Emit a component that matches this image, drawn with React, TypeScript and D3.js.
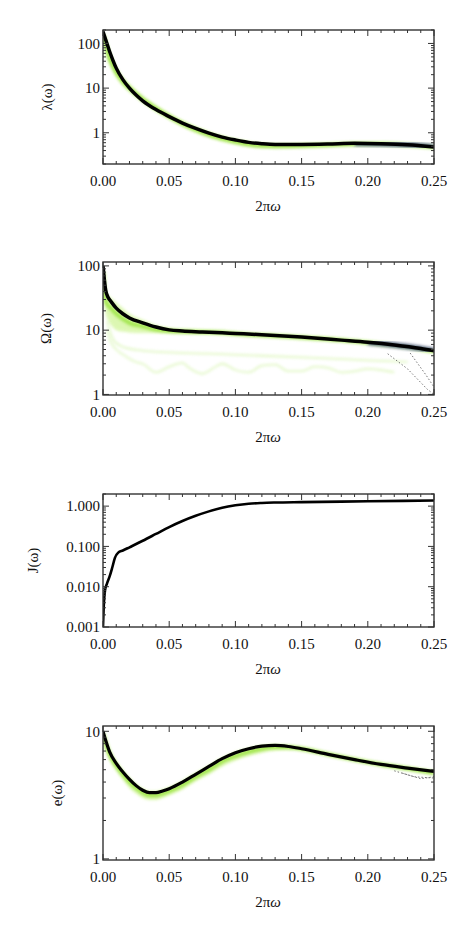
import React, { useRef, useEffect } from 'react';
import * as d3 from 'd3';

// lambda(omega)
const w1 = [0, 0.0025, 0.005, 0.0075, 0.01, 0.015, 0.02, 0.025, 0.03, 0.04, 0.05, 0.06, 0.07, 0.08, 0.09, 0.1, 0.11, 0.12, 0.13, 0.15, 0.17, 0.19, 0.21, 0.23, 0.25];
const lam = [185, 110, 66, 42, 28, 15.5, 10, 7, 5.2, 3.3, 2.3, 1.65, 1.25, 0.98, 0.8, 0.69, 0.61, 0.57, 0.55, 0.55, 0.56, 0.58, 0.57, 0.54, 0.48];
const lamGreen = [150, 80, 46, 32, 23, 14, 10, 7.4, 5.6, 3.5, 2.3, 1.6, 1.18, 0.9, 0.74, 0.63, 0.55, 0.51, 0.5, 0.51, 0.53, 0.56, 0.56, 0.53, 0.48];
const lamLo = [120, 60, 34, 24, 18, 11.5, 8.4, 6.4, 4.9, 3.1, 2.0, 1.38, 1.02, 0.79, 0.65, 0.56, 0.49, 0.46, 0.46, 0.47, 0.49, 0.52, 0.52, 0.5, 0.46];
const lamHi = [185, 105, 64, 42, 29, 17, 12, 8.8, 6.6, 4.1, 2.7, 1.85, 1.35, 1.05, 0.85, 0.72, 0.63, 0.58, 0.56, 0.56, 0.58, 0.6, 0.6, 0.57, 0.51];

// Omega(omega)
const w2 = [0, 0.001, 0.002, 0.004, 0.006, 0.01, 0.015, 0.02, 0.03, 0.04, 0.05, 0.06, 0.075, 0.09, 0.1, 0.12, 0.15, 0.18, 0.2, 0.22, 0.24, 0.25];
const om = [100, 62, 42, 32, 28, 22, 18, 15.5, 13.0, 11.2, 10.1, 9.7, 9.4, 9.1, 8.9, 8.5, 7.8, 7.0, 6.5, 5.9, 5.2, 4.8];
const omGreen = [80, 35, 28, 24, 22, 18, 15, 13, 11.5, 10.2, 9.7, 9.5, 9.4, 9.2, 8.8, 8.3, 7.7, 7.0, 6.4, 5.8, 5.1, 4.7];
const omLo = [60, 30, 18, 14, 12, 10, 9.5, 9.2, 9.0, 9.0, 9.0, 8.9, 8.8, 8.6, 8.5, 8.1, 7.5, 6.8, 6.3, 5.7, 5.0, 4.6];
const omHi = [100, 45, 38, 35, 32, 27, 22, 18, 14.5, 12, 10.8, 10.2, 9.8, 9.4, 9.1, 8.6, 8.0, 7.2, 6.6, 6.0, 5.2, 4.8];
const wS = [0.003, 0.006, 0.01, 0.015, 0.02, 0.025, 0.03, 0.04, 0.05, 0.06, 0.065, 0.075, 0.085, 0.09, 0.1, 0.11, 0.12, 0.13, 0.14, 0.15, 0.16, 0.17, 0.18, 0.19, 0.2, 0.21, 0.22];
const omScallop = [10, 6.5, 5.0, 4.2, 3.6, 3.2, 3.0, 2.2, 2.7, 3.1, 2.6, 2.1, 2.7, 3.0, 2.4, 2.2, 2.8, 2.9, 2.3, 2.3, 2.7, 2.6, 2.2, 2.3, 2.5, 2.4, 2.2];
const wF = [0.003, 0.008, 0.015, 0.03, 0.05, 0.08, 0.12, 0.16, 0.2, 0.23];
const omFaint = [14, 7, 5.5, 4.8, 4.5, 4.3, 4.0, 3.7, 3.4, 3.2];
const wV1 = [0.215, 0.23, 0.245, 0.25];
const omV1 = [4.3, 2.5, 1.2, 1.0];
const wV2 = [0.232, 0.244, 0.25];
const omV2 = [4.4, 2.0, 1.3];

// J(omega)
const w3 = [0, 0.0007, 0.0015, 0.003, 0.005, 0.007, 0.009, 0.0115, 0.015, 0.02, 0.03, 0.04, 0.05, 0.06, 0.07, 0.08, 0.09, 0.1, 0.11, 0.12, 0.13, 0.15, 0.2, 0.25];
const jw = [0.001, 0.004, 0.008, 0.012, 0.018, 0.03, 0.052, 0.07, 0.079, 0.095, 0.138, 0.204, 0.302, 0.427, 0.575, 0.741, 0.912, 1.047, 1.148, 1.2, 1.23, 1.26, 1.32, 1.38];

// e(omega)
const w4 = [0, 0.002, 0.005, 0.01, 0.015, 0.02, 0.025, 0.03, 0.035, 0.04, 0.045, 0.05, 0.06, 0.07, 0.08, 0.09, 0.1, 0.11, 0.12, 0.13, 0.14, 0.15, 0.17, 0.19, 0.21, 0.23, 0.25];
const ew = [10, 8.5, 6.9, 5.6, 4.8, 4.2, 3.75, 3.45, 3.3, 3.3, 3.4, 3.55, 4.0, 4.6, 5.3, 6.1, 6.8, 7.3, 7.65, 7.75, 7.6, 7.3, 6.6, 6.0, 5.5, 5.15, 4.85];
const eGreen = [9.5, 8, 6.6, 5.4, 4.6, 4.0, 3.6, 3.3, 3.15, 3.15, 3.25, 3.4, 3.8, 4.4, 5.0, 5.8, 6.4, 6.9, 7.3, 7.5, 7.5, 7.3, 6.6, 6.0, 5.5, 5.1, 4.7];
const eLo = [9, 7.4, 6.0, 4.9, 4.2, 3.6, 3.25, 3.0, 2.9, 2.9, 3.0, 3.15, 3.5, 4.05, 4.6, 5.3, 5.9, 6.4, 6.8, 7.1, 7.2, 7.1, 6.5, 5.9, 5.4, 5.0, 4.6];
const eHi = [10, 8.6, 7.0, 5.7, 4.9, 4.3, 3.85, 3.55, 3.4, 3.4, 3.5, 3.65, 4.1, 4.7, 5.4, 6.2, 6.9, 7.4, 7.75, 7.85, 7.7, 7.4, 6.7, 6.1, 5.6, 5.2, 4.9];
const wE1 = [0.22, 0.235, 0.25];
const eDot1 = [4.9, 4.4, 4.3];
const wE2 = [0.226, 0.24, 0.25];
const eDot2 = [4.7, 4.25, 4.4];

const xMajor = [0, 0.05, 0.1, 0.15, 0.2, 0.25];
const xLabels = ['0.00', '0.05', '0.10', '0.15', '0.20', '0.25'];

const zip = (xs, ys) => xs.map((x, i) => [x, ys[i]]);

const panels = [
  {
    top: 30, bottom: 164, domain: [0.2, 200], label: 'λ(ω)', labelX: 47,
    ticks: [100, 10, 1], tickText: ['100', '10', '1'],
    band: [w1, lamLo, lamHi], green: [zip(w1, lamGreen)], faint: [],
    navy: zip(w1, lam).filter(d => d[0] >= 0.19), main: zip(w1, lam), mainWidth: 3.5, dots: [],
  },
  {
    top: 262, bottom: 395, domain: [0.98, 115], label: 'Ω(ω)', labelX: 46,
    ticks: [100, 10, 1], tickText: ['100', '10', '1'],
    band: [w2, omLo, omHi], green: [zip(w2, omGreen)], faint: [zip(wS, omScallop), zip(wF, omFaint)],
    navy: zip(w2, om).filter(d => d[0] >= 0.2), main: zip(w2, om), mainWidth: 3.5,
    dots: [zip(wV1, omV1), zip(wV2, omV2)],
  },
  {
    top: 494, bottom: 627, domain: [0.001, 2], label: 'J(ω)', labelX: 33,
    ticks: [1, 0.1, 0.01, 0.001], tickText: ['1.000', '0.100', '0.010', '0.001'],
    band: null, green: [], faint: [], navy: [], main: zip(w3, jw), mainWidth: 2.6, dots: [],
  },
  {
    top: 726, bottom: 860, domain: [0.98, 11], label: 'e(ω)', labelX: 57,
    ticks: [10, 1], tickText: ['10', '1'],
    band: [w4, eLo, eHi], green: [zip(w4, eGreen)], faint: [], navy: [], main: zip(w4, ew), mainWidth: 3.2,
    dots: [zip(wE1, eDot1), zip(wE2, eDot2)],
  },
];

const App = () => {
  const svgRef = useRef(null);

  useEffect(() => {
    const svg = d3.select(svgRef.current);
    svg.selectAll('*').remove();

    const defs = svg.append('defs');
    defs.append('filter').attr('id', 'soft').attr('x', '-10%').attr('y', '-10%').attr('width', '120%').attr('height', '120%')
      .append('feGaussianBlur').attr('stdDeviation', 1.6);

    const x = d3.scaleLinear().domain([0, 0.25]).range([103, 434]);
    const font = 'Liberation Serif, Times New Roman, Times, serif';

    panels.forEach(p => {
      const y = d3.scaleLog().domain(p.domain).range([p.bottom, p.top]);
      const g = svg.append('g');
      const clipId = `clip${p.top}`;
      defs.append('clipPath').attr('id', clipId).append('rect')
        .attr('x', 103).attr('y', p.top).attr('width', 331).attr('height', p.bottom - p.top);
      const plot = g.append('g').attr('clip-path', `url(#${clipId})`);

      const line = d3.line().x(d => x(d[0])).y(d => y(d[1])).curve(d3.curveMonotoneX);

      if (p.band) {
        const [bw, lo, hi] = p.band;
        const area = d3.area()
          .x((d, i) => x(bw[i])).y0((d, i) => y(lo[i])).y1((d, i) => y(hi[i]))
          .curve(d3.curveMonotoneX);
        plot.append('path').datum(bw).attr('d', area)
          .attr('fill', '#d4f6a0').attr('opacity', 0.8).attr('filter', 'url(#soft)');
      }
      p.faint.forEach(f => {
        plot.append('path').datum(f).attr('d', line).attr('fill', 'none')
          .attr('stroke', '#cdf29c').attr('stroke-width', 1.8).attr('opacity', 0.6).attr('filter', 'url(#soft)');
      });
      p.green.forEach(f => {
        plot.append('path').datum(f).attr('d', line).attr('fill', 'none')
          .attr('stroke', '#8ee02a').attr('stroke-width', 4).attr('opacity', 0.75).attr('filter', 'url(#soft)');
      });
      p.dots.forEach(f => {
        plot.append('path').datum(f).attr('d', d3.line().x(d => x(d[0])).y(d => y(d[1])))
          .attr('fill', 'none').attr('stroke', '#666').attr('stroke-width', 0.9).attr('stroke-dasharray', '1.5,2');
      });
      if (p.navy.length) {
        plot.append('path').datum(p.navy).attr('d', line).attr('fill', 'none')
          .attr('stroke', '#2a2a80').attr('stroke-width', p.mainWidth + 2).attr('opacity', 0.7)
          .attr('filter', 'url(#soft)');
      }
      plot.append('path').datum(p.main).attr('d', line).attr('fill', 'none')
        .attr('stroke', '#000').attr('stroke-width', p.mainWidth).attr('stroke-linejoin', 'round');

      // frame
      g.append('rect').attr('x', 103).attr('y', p.top).attr('width', 331).attr('height', p.bottom - p.top)
        .attr('fill', 'none').attr('stroke', '#333').attr('stroke-width', 1.4);

      // x ticks
      const xMinor = d3.range(1, 25).map(i => i / 100).filter(v => Math.round(v * 100) % 5 !== 0);
      const tick = (x1, y1, x2, y2) => g.append('line').attr('x1', x1).attr('y1', y1).attr('x2', x2).attr('y2', y2)
        .attr('stroke', '#333').attr('stroke-width', 1);
      xMajor.forEach(v => { tick(x(v), p.bottom, x(v), p.bottom - 6); tick(x(v), p.top, x(v), p.top + 6); });
      xMinor.forEach(v => { tick(x(v), p.bottom, x(v), p.bottom - 3); tick(x(v), p.top, x(v), p.top + 3); });

      // y ticks (log)
      const [d0, d1] = p.domain;
      for (let e = Math.floor(Math.log10(d0)); e <= Math.ceil(Math.log10(d1)); e++) {
        for (let m = 1; m <= 9; m++) {
          const v = m * Math.pow(10, e);
          if (v < d0 || v > d1) continue;
          const len = m === 1 ? 6 : 3;
          tick(103, y(v), 103 + len, y(v));
          tick(434, y(v), 434 - len, y(v));
        }
      }

      // labels
      xMajor.forEach((v, i) => {
        g.append('text').attr('x', x(v)).attr('y', p.bottom + 22).attr('text-anchor', 'middle')
          .style('font-family', font).attr('font-size', 15).attr('fill', '#111').text(xLabels[i]);
      });
      p.ticks.forEach((v, i) => {
        g.append('text').attr('x', 100).attr('y', y(v)).attr('dy', '0.35em').attr('text-anchor', 'end')
          .style('font-family', font).attr('font-size', 15).attr('fill', '#111').text(p.tickText[i]);
      });
      const t = g.append('text').attr('x', 268).attr('y', p.bottom + 47).attr('text-anchor', 'middle')
        .style('font-family', font).attr('font-size', 15).attr('fill', '#111');
      t.append('tspan').text('2π');
      t.append('tspan').attr('font-style', 'italic').text('ω');
      g.append('text')
        .attr('transform', `translate(${p.labelX},${(p.top + p.bottom) / 2}) rotate(-90)`)
        .attr('text-anchor', 'middle').attr('dy', '0.35em')
        .style('font-family', font).attr('font-size', 15).attr('fill', '#111').text(p.label);
    });
  }, []);

  return (
    <svg ref={svgRef} width={463} height={926}
      style={{ position: 'absolute', left: 0, top: 0, background: '#fff' }} />
  );
};

export default App;
